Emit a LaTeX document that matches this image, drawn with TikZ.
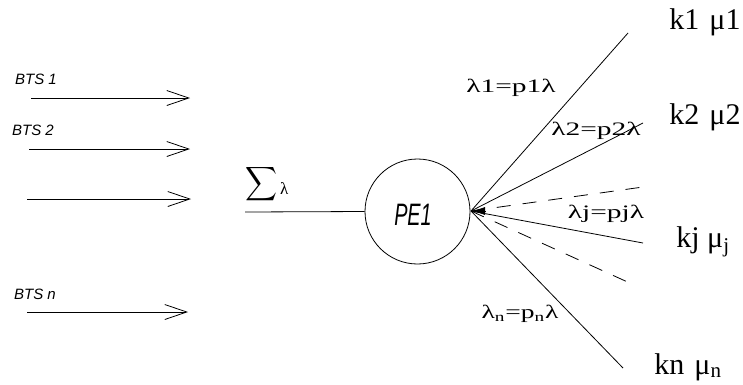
\documentclass[tikz,border=0pt]{standalone}
\usepackage{fontspec}
\setmainfont{Liberation Serif}
\newfontfamily\btsfont{Liberation Sans}
\usetikzlibrary{arrows.meta}
\tikzset{
  ln/.style={line width=0.8pt, black},
  inarrow/.style={ln, -{Straight Barb[length=22pt,width=15pt,line width=0.8pt]}},
  btslabel/.style={inner sep=0pt, font=\btsfont\itshape\fontsize{15}{15}\selectfont},
  eqlabel/.style={inner sep=0pt, font=\fontsize{19}{19}\selectfont},
  klabel/.style={inner sep=0pt, font=\fontsize{30}{30}\selectfont},
  dashedline/.style={ln, dash pattern=on 14pt off 12pt},
}
\begin{document}
\begin{tikzpicture}[x=1pt,y=-1pt]
\useasboundingbox (0,0) rectangle (743,384);
% inputs
\coordinate (a1s) at (31,98);  \coordinate (a1e) at (190,98);
\coordinate (a2s) at (29,149); \coordinate (a2e) at (190,149);
\coordinate (a3s) at (27,199); \coordinate (a3e) at (191,199);
\coordinate (ans) at (27,312); \coordinate (ane) at (188,312);
\draw[inarrow] (a1s) -- (a1e);
\draw[inarrow] (a2s) -- (a2e);
\draw[inarrow] (a3s) -- (a3e);
\draw[inarrow] (ans) -- (ane);
\node[btslabel] (b1) at (36,79) {BTS 1};
\node[btslabel] (b2) at (33,130) {BTS 2};
\node[btslabel] (bn) at (35,294) {BTS \textit{n}};
% sum
\node[inner sep=0pt] (sum) at (261,184) {\resizebox*{32pt}{38pt}{$\displaystyle\sum$}};
\node[inner sep=0pt, font=\fontsize{17}{17}\selectfont, anchor=south west] (lam) at (280,195) {λ};
% PE1
\node[circle, draw, line width=0.8pt, minimum size=105pt, inner sep=0pt] (pe) at (417.5,211.5) {};
\node[inner sep=0pt, font=\btsfont\itshape\fontsize{31}{31}\selectfont] (pet) at (413,215) {\scalebox{0.64}[1]{PE1}};
\coordinate (ins) at (245,212);
\draw[ln] (ins) -- (pe.west);
% focal point
\coordinate (F) at (471,211);
\coordinate (e1) at (628,33);
\coordinate (e2) at (643,123);
\coordinate (ed1) at (643,187);
\coordinate (ej) at (643,243);
\coordinate (ed2) at (632,284);
\coordinate (en) at (623,368);
\draw[ln] (F) -- (e1);
\draw[ln] (F) -- (e2);
\draw[dashedline] (F) -- (ed1);
\draw[ln] (F) -- (ej);
\draw[dashedline] (F) -- (ed2);
\draw[ln] (F) -- (en);
\coordinate (Fa) at (486,211);
\draw[ln, -{Latex[length=14pt,width=8pt]}] (Fa) -- (F);
% labels
\node[eqlabel] (l1) at (511,88) {\scalebox{1.55}[1]{λ1=p1λ}};
\node[eqlabel] (l2) at (596,131) {\scalebox{1.55}[1]{λ2=p2λ}};
\node[eqlabel] (lj) at (606,214) {\scalebox{1.55}[1]{λj=pjλ}};
\node[eqlabel] (ln) at (520,314) {\scalebox{1.45}[1]{λ\textsubscript{n}=p\textsubscript{n}λ}};
\node[klabel] (k1) at (705,22) {k1\,\,μ1};
\node[klabel] (k2) at (705,117) {k2\,\,μ2};
\node[klabel] (kj) at (703,242) {kj μ\textsubscript{j}};
\node[klabel] (kn) at (688,367) {kn\,\,μ\textsubscript{n}};
\end{tikzpicture}
\end{document}
